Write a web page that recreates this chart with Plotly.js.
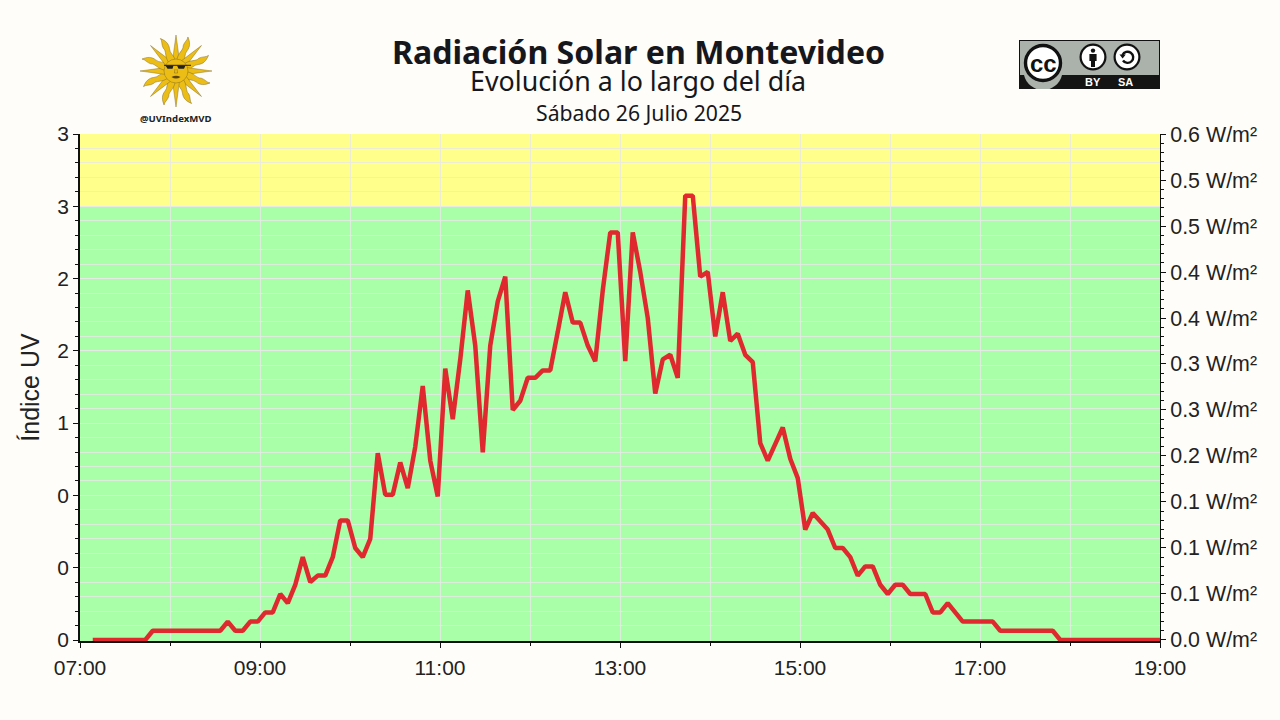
<!DOCTYPE html>
<html><head><meta charset="utf-8">
<script src="https://cdn.plot.ly/plotly-3.0.1.min.js"></script>
<style>html,body{margin:0;padding:0;background:#fffdf9}#c{width:1280px;height:720px}
.scatterlayer .js-line{stroke-linejoin:bevel !important}</style>
</head><body><div id="c"></div>
<script>
const day = "2025-07-26 ";
const times = [
"07:08:30","07:13:30","07:18:30","07:23:30","07:28:30","07:33:30","07:38:30","07:43:30","07:48:30","07:53:30","07:58:30",
"08:03:30","08:08:30","08:13:30","08:18:30","08:23:30","08:28:30","08:33:30","08:38:30","08:43:30","08:48:30","08:53:30","08:58:30",
"09:03:30","09:08:30","09:13:30","09:18:30","09:23:30","09:28:30","09:33:30","09:38:30","09:43:30","09:48:30","09:53:30","09:58:30",
"10:03:30","10:08:30","10:13:30","10:18:30","10:23:30","10:28:30","10:33:30","10:38:30","10:43:30","10:48:30","10:53:30","10:58:30",
"11:03:30","11:08:30","11:13:30","11:18:30","11:23:30","11:28:30","11:33:30","11:38:30","11:43:30","11:48:30","11:53:30","11:58:30",
"12:03:30","12:08:30","12:13:30","12:18:30","12:23:30","12:28:30","12:33:30","12:38:30","12:43:30","12:48:30","12:53:30","12:58:30",
"13:03:30","13:08:30","13:13:30","13:18:30","13:23:30","13:28:30","13:33:30","13:38:30","13:43:30","13:48:30","13:53:30","13:58:30",
"14:03:30","14:08:30","14:13:30","14:18:30","14:23:30","14:28:30","14:33:30","14:38:30","14:43:30","14:48:30","14:53:30","14:58:30",
"15:03:30","15:08:30","15:13:30","15:18:30","15:23:30","15:28:30","15:33:30","15:38:30","15:43:30","15:48:30","15:53:30","15:58:30",
"16:03:30","16:08:30","16:13:30","16:18:30","16:23:30","16:28:30","16:33:30","16:38:30","16:43:30","16:48:30","16:53:30","16:58:30",
"17:03:30","17:08:30","17:13:30","17:18:30","17:23:30","17:28:30","17:33:30","17:38:30","17:43:30","17:48:30","17:53:30","17:58:30",
"18:03:30","18:08:30","18:13:30","18:18:30","18:23:30","18:28:30","18:33:30","18:38:30","18:43:30","18:48:30","18:53:30","18:58:30","19:00:00"];
const irradiance = [
0,0,0,0,0,0,0,0,.01,.01,.01,
.01,.01,.01,.01,.01,.01,.01,.02,.01,.01,.02,.02,
.03,.03,.05,.04,.06,.09,.063,.07,.07,.09,.13,.13,
.10,.09,.11,.203,.158,.158,.193,.165,.21,.276,.195,.156,
.295,.24,.305,.38,.32,.204,.32,.368,.395,.25,.26,.285,
.285,.293,.293,.335,.378,.345,.345,.32,.303,.38,.443,.443,
.303,.443,.40,.35,.268,.305,.31,.285,.483,.483,.395,.40,
.33,.378,.325,.333,.31,.302,.214,.195,.212,.231,.197,.176,
.12,.138,.129,.12,.10,.10,.09,.07,.08,.08,.06,.05,
.06,.06,.05,.05,.05,.03,.03,.04,.03,.02,.02,.02,
.02,.02,.01,.01,.01,.01,.01,.01,.01,.01,0,0,0,
0,0,0,0,0,0,0,0,0,0,0,0,0];
const uvTickVals = [0,.5,1,1.5,2,2.5,3,3.5];
const uvTickText = ["0","0","0","1","2","2","3","3"];
const wTickVals = [0,.05,.1,.15,.2,.25,.3,.35,.4,.45,.5,.55];
const wTickText = ["0.0 W/m²","0.1 W/m²","0.1 W/m²","0.1 W/m²","0.2 W/m²","0.3 W/m²","0.3 W/m²","0.4 W/m²","0.4 W/m²","0.5 W/m²","0.5 W/m²","0.6 W/m²"];
const uvBandTop = 3;
const titleMain = "Radiación Solar en Montevideo";
const titleSub = "Evolución a lo largo del día";
const titleDate = "Sábado 26 Julio 2025";

// logo artwork
const L=80,R=1160,T=134,B=641;
const px=x=>(x-L)/(R-L), py=y=>(B-y)/(B-T);
function sunSvg(){
  let s='<svg xmlns="http://www.w3.org/2000/svg" viewBox="-37 -37 74 74" width="296" height="296">';
  for(let i=0;i<16;i++){
    const a=i*22.5;
    const d=i%2==0?'M-3.4,-11 L0,-36 L3.4,-11 Z':'M-3.6,-11 C-5,-18 -1,-22 -3,-26 C-3.5,-30 -1,-33 -2,-36 C2,-32 4,-28 2.5,-23 C1,-19 4,-15 3.6,-11 Z';
    s+='<path transform="rotate('+a+')" d="'+d+'" fill="#ecbd14" stroke="#7f6c2a" stroke-width=".45"/>';
  }
  s+='<circle r="12" fill="#ecbd14" stroke="#7f6c2a" stroke-width=".45"/>';
  s+='<path d="M-12,-5.7 H15" stroke="#111" stroke-width=".9"/>';
  s+='<path d="M-10.5,-5.5 H-2.5 L-3.5,-2.2 H-8.5 Z M1,-5.5 H9.5 L8,-2.2 H2.5 Z" fill="#222"/>';
  s+='<path d="M-1,-2 L-1.6,2 H1.6 L1,-2" fill="none" stroke="#7d6518" stroke-width=".5"/>';
  s+='<path d="M-4.5,6 Q0,3.6 4.5,6 Q0,9 -4.5,6 Z" fill="#5a4510"/>';
  return s+'</svg>';
}
function ccSvg(){
  let s='<svg xmlns="http://www.w3.org/2000/svg" viewBox="0 0 141 49" width="564" height="196">';
  s+='<rect x=".5" y=".5" width="140" height="48" fill="#aab2ab" stroke="#111"/>';
  s+='<rect x="0" y="35" width="141" height="14" fill="#141414"/>';
  s+='<path d="M5,35 A19.5,19.5 0 0 0 43,35 Z" fill="#aab2ab"/>';
  s+='<circle cx="24" cy="23" r="17.5" fill="#fff" stroke="#111" stroke-width="3.4"/>';
  s+='<circle cx="74" cy="17" r="12.4" fill="#fff" stroke="#111" stroke-width="2.2"/>';
  s+='<circle cx="74" cy="10.6" r="2.2" fill="#111"/><path d="M70.4,14 H77.6 V21 H76 V27 H72 V21 H70.4 Z" fill="#111"/>';
  s+='<circle cx="108" cy="17" r="12.4" fill="#fff" stroke="#111" stroke-width="2.2"/>';
  s+='<path d="M103.5,15 A5.6,5.6 0 1 1 104,20.5" fill="none" stroke="#111" stroke-width="2.4"/><path d="M100.5,14.5 H106.8 L103.6,18.5 Z" fill="#111"/>';
  return s+'</svg>';
}
const uri=s=>"data:image/svg+xml;charset=utf-8,"+encodeURIComponent(s);

const tickFont={family:"Liberation Sans, Arial, sans-serif",size:21,color:"#222"};
const tickFontR={family:"Liberation Sans, Arial, sans-serif",size:21.4,color:"#222"};
const grid="rgba(232,232,232,0.8)";
const noto="Noto Sans, sans-serif";
const ann=(x,y,text,size,color,weight,family)=>({xref:"paper",yref:"paper",x:px(x),y:py(y),text:weight?"<b>"+text+"</b>":text,showarrow:false,xanchor:"center",yanchor:"middle",font:{family:family||noto,size,color}});

const xs=times.map(t=>day+t);
const x0=day+"07:00:00", x1=day+"19:00:00";
const traces=[
 {x:[x0,x1],y:[uvBandTop,uvBandTop],xaxis:"x",yaxis:"y",mode:"lines",line:{color:"rgba(0,0,0,0)",width:0},hoverinfo:"skip",showlegend:false},
 {x:xs,y:irradiance,xaxis:"x",yaxis:"y2",mode:"lines",line:{color:"rgba(226,30,40,0.95)",width:4.5},cliponaxis:false,showlegend:false}
];
const layout={
 width:1280,height:720,paper_bgcolor:"#fffdf9",plot_bgcolor:"#fffdf9",
 margin:{l:L,r:1280-R,t:T,b:720-B,pad:0},showlegend:false,
 title:{text:"<b>"+titleMain+"</b>",x:px(638.5),xanchor:"center",xref:"paper",y:1-53/720,yref:"container",yanchor:"middle",font:{family:noto,size:32.1,color:"#16171c"}},
 xaxis:{type:"date",range:[x0,x1],tickformat:"%H:%M",tick0:x0,dtick:7200000,ticks:"outside",ticklen:5,tickwidth:1,tickcolor:"#111",ticklabelstandoff:2,
  showline:true,linecolor:"#111",linewidth:1.5,showgrid:true,gridcolor:grid,gridwidth:1,tickfont:tickFont,zeroline:false,
  minor:{dtick:3600000,tick0:x0,ticks:"outside",ticklen:3,tickwidth:1,tickcolor:"#111",showgrid:true,gridcolor:grid,gridwidth:1}},
 yaxis:{range:[-0.0069,3.5],tickmode:"array",tickvals:uvTickVals,ticktext:uvTickText,ticks:"outside",ticklen:5,tickwidth:1,tickcolor:"#111",
  showline:true,linecolor:"#111",linewidth:1.5,showgrid:true,gridcolor:grid,gridwidth:1,tickfont:tickFont,zeroline:false,
  title:{text:"Índice UV",font:{family:"Liberation Sans, Arial, sans-serif",size:25,color:"#222"},standoff:11},
  minor:{dtick:0.1,tick0:0,ticks:"outside",ticklen:3,tickwidth:1,tickcolor:"#111",showgrid:true,gridcolor:grid,gridwidth:1}},
 yaxis2:{overlaying:"y",side:"right",range:[-0.0011,0.5500],tickmode:"array",tickvals:wTickVals,ticktext:wTickText,ticks:"outside",ticklen:5,tickwidth:1,tickcolor:"#111",
  showline:true,linecolor:"#111",linewidth:1,showgrid:false,tickfont:tickFontR,zeroline:false,
  minor:{dtick:0.01,tick0:0,ticks:"outside",ticklen:3,tickwidth:1,tickcolor:"#111",showgrid:false}},
 shapes:[
  {type:"rect",layer:"below",xref:"x",yref:"y",x0:x0,x1:x1,y0:-0.0069,y1:uvBandTop,fillcolor:"#a8ffa8",line:{width:0}},
  {type:"rect",layer:"below",xref:"x",yref:"y",x0:x0,x1:x1,y0:uvBandTop,y1:3.5,fillcolor:"#ffff8c",line:{width:0}}
 ],
 images:[
  {source:uri(sunSvg()),xref:"paper",yref:"paper",x:px(139),y:py(34),sizex:74/(R-L),sizey:74/(B-T),xanchor:"left",yanchor:"top",sizing:"stretch",layer:"above"},
  {source:uri(ccSvg()),xref:"paper",yref:"paper",x:px(1019),y:py(40),sizex:141/(R-L),sizey:49/(B-T),xanchor:"left",yanchor:"top",sizing:"stretch",layer:"above"}
 ],
 annotations:[
  ann(638,81,titleSub,26.8,"#16171c"),
  ann(639,112,titleDate,21.2,"#16171c"),
  ann(176,118,"@UVIndexMVD",9.6,"#222",true),
  ann(1043,63.5,"cc",24,"#111",true,"Liberation Sans, Arial, sans-serif"),
  ann(1092.5,82,"BY",11,"#fff",true,"Liberation Sans, Arial, sans-serif"),
  ann(1125.5,82,"SA",11,"#fff",true,"Liberation Sans, Arial, sans-serif")
 ]
};
Plotly.newPlot("c",traces,layout,{displayModeBar:false,responsive:false});
</script></body></html>
